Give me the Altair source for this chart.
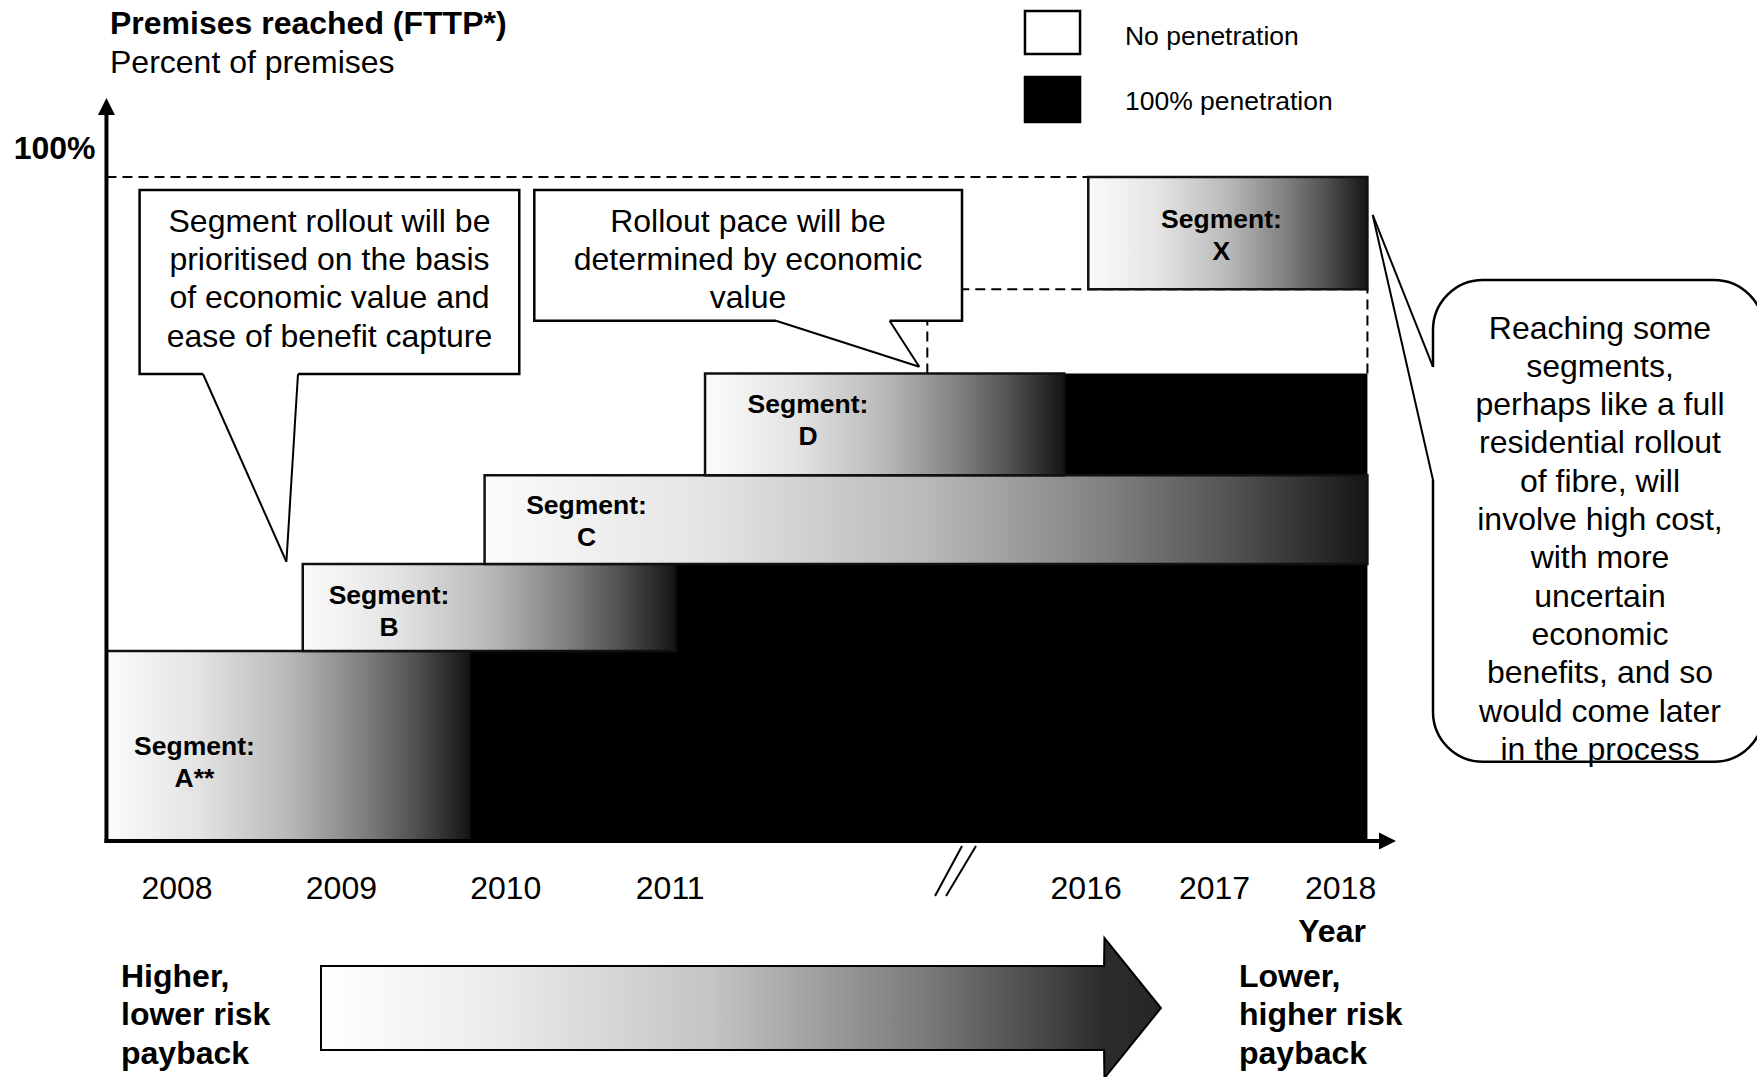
import altair as alt
import pandas as pd

# ---------------- data ----------------
years = ["2008", "2009", "2010", "2011", "2016", "2017", "2018"]
year_pos = [0.0, 1.0, 2.0, 3.0, 5.530, 6.311, 7.078]   # timeline position (axis broken after 2011)

segments = ["A**", "B", "C", "D", "X"]
seg_start = [-0.429, 0.765, 1.871, 3.212, 5.543]      # rollout of segment starts
seg_ramp_end = [1.780, 3.032, 7.241, 5.397, 7.241]   # segment reaches 100% penetration
seg_low = [0.0, 28.6, 41.7, 55.1, 83.1]               # percent of premises
seg_high = [28.6, 41.7, 55.1, 70.4, 100.0]
timeline_end = 7.241
axis_origin = -0.429

legend_labels = ["No penetration", "100% penetration"]
legend_colors = ["white", "black"]

callout_texts = [
    "Segment rollout will be\nprioritised on the basis\nof economic value and\nease of benefit capture",
    "Rollout pace will be\ndetermined by economic\nvalue",
    "Reaching some\nsegments,\nperhaps like a full\nresidential rollout\nof fibre, will\ninvolve high cost,\n"
    "with more\nuncertain\neconomic\nbenefits, and so\nwould come later\nin the process",
]
left_note = "Higher,\nlower risk\npayback"
right_note = "Lower,\nhigher risk\npayback"

# ---------------- layout (timeline units / percent units) ----------------
XDOM = [-1.0766, 9.6107]
YDOM = [-35.542, 126.657]
FONT = "Liberation Sans"
FS = 32        # main text size
FS_SMALL = 26.5

label_x = [0.106, 1.290, 2.491, 3.838, 6.353]
label_y = [14.16, 36.90, 50.45, 65.66, 93.52]   # first line of each label

xs = alt.Scale(domain=XDOM, nice=False, zero=False)
ys = alt.Scale(domain=YDOM, nice=False, zero=False)


def xq(f):
    return alt.X(f"{f}:Q", scale=xs, axis=None)


def yq(f):
    return alt.Y(f"{f}:Q", scale=ys, axis=None)


def rules(rows, **kw):
    df = pd.DataFrame(rows, columns=["x", "x2", "y", "y2"])
    return alt.Chart(df).mark_rule(**kw).encode(
        x=xq("x"), x2=alt.X2("x2"), y=yq("y"), y2=alt.Y2("y2"))


def rects(rows, **kw):
    df = pd.DataFrame(rows, columns=["x", "x2", "y", "y2"])
    return alt.Chart(df).mark_rect(**kw).encode(
        x=xq("x"), x2=alt.X2("x2"), y=yq("y"), y2=alt.Y2("y2"))


def texts(rows, **kw):
    df = pd.DataFrame(rows, columns=["x", "y", "t"])
    base = dict(font=FONT, color="black", lineBreak="\n")
    base.update(kw)
    return alt.Chart(df).mark_text(**base).encode(x=xq("x"), y=yq("y"), text="t:N")


seg_grad = alt.LinearGradient(
    gradient="linear",
    stops=[
        alt.GradientStop(color="#fbfbfb", offset=0),
        alt.GradientStop(color="#e4e4e4", offset=0.25),
        alt.GradientStop(color="#b9b9b9", offset=0.5),
        alt.GradientStop(color="#828282", offset=0.7),
        alt.GradientStop(color="#515151", offset=0.85),
        alt.GradientStop(color="#151515", offset=1),
    ],
    x1=0, x2=1, y1=0, y2=0,
)
arrow_grad = alt.LinearGradient(
    gradient="linear",
    stops=[
        alt.GradientStop(color="#ffffff", offset=0),
        alt.GradientStop(color="#ececec", offset=0.2),
        alt.GradientStop(color="#c4c4c4", offset=0.465),
        alt.GradientStop(color="#7a7a7a", offset=0.72),
        alt.GradientStop(color="#404040", offset=0.88),
        alt.GradientStop(color="#2c2c2c", offset=0.93),
        alt.GradientStop(color="#262626", offset=1),
    ],
    x1=0, x2=1, y1=0, y2=0,
)

seg_df = pd.DataFrame({"segment": segments, "start": seg_start, "ramp_end": seg_ramp_end,
                       "low": seg_low, "high": seg_high})
full_df = seg_df[seg_df["ramp_end"] < timeline_end].assign(end=timeline_end)

layers = []

# dashed guide lines
layers.append(rules([
    (axis_origin, timeline_end, 100, 100),
    (4.564, timeline_end, 83.1, 83.1),
    (4.564, 4.564, 70.4, 83.1),
    (timeline_end, timeline_end, 70.4, 83.1),
], strokeDash=[10, 6], strokeWidth=2, color="black"))

# 100% penetration cells
layers.append(alt.Chart(full_df).mark_rect(color="black").encode(
    x=xq("ramp_end"), x2=alt.X2("end"), y=yq("low"), y2=alt.Y2("high")))

# ramp-up (gradient) segments
layers.append(alt.Chart(seg_df).mark_rect(fill=seg_grad, stroke="#111111", strokeWidth=2.5).encode(
    x=xq("start"), x2=alt.X2("ramp_end"), y=yq("low"), y2=alt.Y2("high")))

# segment labels
layers.append(texts([(label_x[i], label_y[i], "Segment:\n" + s) for i, s in enumerate(segments)],
                    fontSize=FS_SMALL, fontWeight="bold", lineHeight=32, align="center",
                    baseline="middle"))

# callout boxes
layers.append(rects([(-0.2275, 2.082, 70.33, 98.04), (2.1734, 4.775, 78.36, 98.04)],
                    fill="white", stroke="black", strokeWidth=2.5))
layers.append(rects([(7.6399, 9.653, 11.94, 84.49)],
                    fill="white", stroke="black", strokeWidth=2.5, cornerRadius=50))
# open the box edge where the pointer leaves
layers.append(rules([
    (0.1582, 0.736, 70.33, 70.33),
    (3.6436, 4.3345, 78.36, 78.36),
    (7.6399, 7.6399, 54.37, 71.39),
], color="white", strokeWidth=4))
# pointers
layers.append(rules([
    (0.1582, 0.6655, 70.33, 42.06), (0.736, 0.6655, 70.33, 42.06),
    (3.6436, 4.515, 78.36, 71.43), (4.3345, 4.515, 78.36, 71.43),
    (7.6399, 7.2731, 71.39, 94.28), (7.6399, 7.2731, 54.37, 94.28),
], color="black", strokeWidth=2))

layers.append(texts([(0.9276, 93.27, callout_texts[0]), (3.4732, 93.27, callout_texts[1]),
                     (8.6557, 77.18, callout_texts[2])],
                    fontSize=FS, lineHeight=38.3, align="center", baseline="middle"))

# axes
layers.append(rules([(axis_origin, axis_origin, -0.3, 109.8), (-0.441, 7.318, 0, 0)],
                    color="black", strokeWidth=4))
ax_arrows = pd.DataFrame({"x": [axis_origin, 7.363], "y": [110.62, 0.0],
                          "s": ["up", "right"]})
layers.append(alt.Chart(ax_arrows[ax_arrows.s == "up"]).mark_point(
    shape="M-1,1L1,1L0,-1Z", filled=True, size=289, color="black", opacity=1, strokeWidth=0
).encode(x=xq("x"), y=yq("y")))
layers.append(alt.Chart(ax_arrows[ax_arrows.s == "right"]).mark_point(
    shape="M-1,-1L1,0L-1,1Z", filled=True, size=289, color="black", opacity=1, strokeWidth=0
).encode(x=xq("x"), y=yq("y")))
# axis break marks
layers.append(rules([(4.775, 4.611, -0.753, -8.28), (4.860, 4.678, -0.753, -8.28)],
                    color="black", strokeWidth=2))

# tick labels
layers.append(texts([(p, -7.17, y) for p, y in zip(year_pos, years)],
                    fontSize=FS, align="center", baseline="middle"))
layers.append(texts([(7.026, -13.7, "Year")], fontSize=FS, fontWeight="bold",
                    align="center", baseline="middle"))

# titles
layers.append(texts([(-0.4075, 123.0, "Premises reached (FTTP*)")], fontSize=FS,
                    fontWeight="bold", align="left", baseline="middle"))
layers.append(texts([(-0.4075, 117.2, "Percent of premises")], fontSize=FS,
                    align="left", baseline="middle"))
layers.append(texts([(-0.4957, 104.2, "100%")], fontSize=FS, fontWeight="bold",
                    align="right", baseline="middle"))

# legend
leg_df = pd.DataFrame({"x": [5.158, 5.158], "x2": [5.493, 5.493], "y": [118.52, 108.28],
                       "y2": [125.0, 115.06], "c": legend_colors, "t": legend_labels,
                       "tx": [5.766, 5.766], "ty": [121.15, 111.35]})
layers.append(alt.Chart(leg_df).mark_rect(stroke="black", strokeWidth=2.5).encode(
    x=xq("x"), x2=alt.X2("x2"), y=yq("y"), y2=alt.Y2("y2"),
    fill=alt.Fill("c:N", scale=None)))
layers.append(alt.Chart(leg_df).mark_text(font=FONT, fontSize=FS_SMALL, align="left",
                                          baseline="middle", color="black").encode(
    x=xq("tx"), y=yq("ty"), text="t:N"))

# bottom payback arrow
arrow_df = pd.DataFrame({"x": [0.876, 5.639, 5.6415, 5.985],
                         "top": [-18.83, -18.83, -14.61, -25.15],
                         "bot": [-31.48, -31.48, -35.69, -25.15]})
layers.append(alt.Chart(arrow_df).mark_area(fill=arrow_grad, stroke="black", strokeWidth=2,
                                            opacity=1).encode(
    x=xq("x"), y=yq("top"), y2=alt.Y2("bot")))
layers.append(texts([(-0.3406, -20.48, left_note), (6.460, -20.48, right_note)],
                    fontSize=FS, fontWeight="bold", lineHeight=38.5, align="left",
                    baseline="middle"))

chart = alt.layer(*layers).properties(
    width=1757, height=1077, padding=0,
    autosize=alt.AutoSizeParams(type="none"),
).configure_view(stroke=None)

chart.save("out.html", embed_options={"renderer": "svg", "actions": False})
